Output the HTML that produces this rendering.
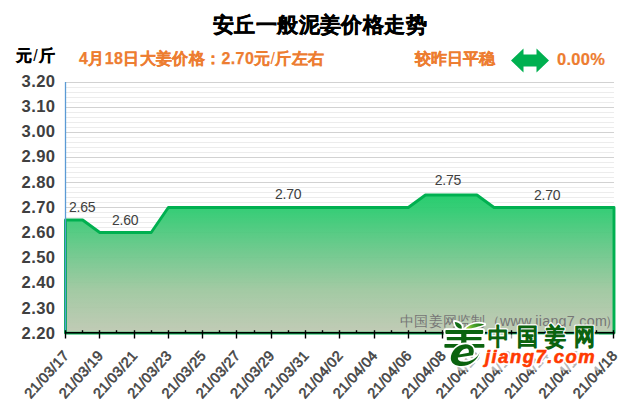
<!DOCTYPE html>
<html><head><meta charset="utf-8">
<style>
html,body{margin:0;padding:0;background:#fff;}
body{width:640px;height:410px;overflow:hidden;position:relative;font-family:"Liberation Sans",sans-serif;}
svg{position:absolute;left:0;top:0;}
.yl{font-family:"Liberation Sans",sans-serif;font-weight:bold;font-size:16.6px;letter-spacing:0.35px;fill:#404040;}
.xl{font-family:"Liberation Sans",sans-serif;font-size:14.3px;letter-spacing:0.3px;fill:#454545;stroke:#454545;stroke-width:0.6px;}
.dl{font-family:"Liberation Sans",sans-serif;font-size:14px;letter-spacing:-0.2px;fill:#404040;}
.wm{font-family:"Liberation Sans",sans-serif;font-size:14.3px;letter-spacing:0.28px;fill:#767676;}
.lg1{font-family:"Liberation Sans",sans-serif;font-size:24px;fill:#0b630f;stroke:#0b630f;stroke-width:1.5px;stroke-linejoin:round;}
.lg2{font-family:"Liberation Sans",sans-serif;font-size:18.4px;letter-spacing:1.5px;font-weight:bold;font-style:italic;fill:#ff3a00;stroke:#ff3a00;stroke-width:0.6px;stroke-linejoin:round;}
.halo{fill:#fff;stroke:#fff;stroke-width:4px;}
.t{position:absolute;white-space:nowrap;font-weight:bold;line-height:1;}
</style></head><body>
<svg width="640" height="410" viewBox="0 0 640 410">
<defs>
<linearGradient id="g" gradientUnits="userSpaceOnUse" x1="0" y1="194" x2="0" y2="333">
<stop offset="0" stop-color="#1fcc69"/>
<stop offset="0.115" stop-color="#30cb72"/>
<stop offset="0.403" stop-color="#6ac88a"/>
<stop offset="0.69" stop-color="#9fc8a0"/>
<stop offset="1" stop-color="#bfc9b3"/>
</linearGradient>
<linearGradient id="lf" gradientUnits="userSpaceOnUse" x1="466" y1="328" x2="484" y2="323">
<stop offset="0" stop-color="#b9d63a"/>
<stop offset="0.4" stop-color="#4fa72e"/>
<stop offset="1" stop-color="#0b6812"/>
</linearGradient>
</defs>
<line x1="65" y1="82.5" x2="614" y2="82.5" stroke="#d2d2d2" stroke-width="1"/>
<line x1="65" y1="87.5" x2="614" y2="87.5" stroke="#ececec" stroke-width="1"/>
<line x1="65" y1="92.5" x2="614" y2="92.5" stroke="#ececec" stroke-width="1"/>
<line x1="65" y1="97.5" x2="614" y2="97.5" stroke="#ececec" stroke-width="1"/>
<line x1="65" y1="102.5" x2="614" y2="102.5" stroke="#ececec" stroke-width="1"/>
<line x1="65" y1="107.5" x2="614" y2="107.5" stroke="#d2d2d2" stroke-width="1"/>
<line x1="65" y1="112.5" x2="614" y2="112.5" stroke="#ececec" stroke-width="1"/>
<line x1="65" y1="117.5" x2="614" y2="117.5" stroke="#ececec" stroke-width="1"/>
<line x1="65" y1="122.5" x2="614" y2="122.5" stroke="#ececec" stroke-width="1"/>
<line x1="65" y1="127.5" x2="614" y2="127.5" stroke="#ececec" stroke-width="1"/>
<line x1="65" y1="132.5" x2="614" y2="132.5" stroke="#d2d2d2" stroke-width="1"/>
<line x1="65" y1="137.5" x2="614" y2="137.5" stroke="#ececec" stroke-width="1"/>
<line x1="65" y1="142.5" x2="614" y2="142.5" stroke="#ececec" stroke-width="1"/>
<line x1="65" y1="147.5" x2="614" y2="147.5" stroke="#ececec" stroke-width="1"/>
<line x1="65" y1="152.5" x2="614" y2="152.5" stroke="#ececec" stroke-width="1"/>
<line x1="65" y1="157.5" x2="614" y2="157.5" stroke="#d2d2d2" stroke-width="1"/>
<line x1="65" y1="162.5" x2="614" y2="162.5" stroke="#ececec" stroke-width="1"/>
<line x1="65" y1="167.5" x2="614" y2="167.5" stroke="#ececec" stroke-width="1"/>
<line x1="65" y1="172.5" x2="614" y2="172.5" stroke="#ececec" stroke-width="1"/>
<line x1="65" y1="177.5" x2="614" y2="177.5" stroke="#ececec" stroke-width="1"/>
<line x1="65" y1="182.5" x2="614" y2="182.5" stroke="#d2d2d2" stroke-width="1"/>
<line x1="65" y1="187.5" x2="614" y2="187.5" stroke="#ececec" stroke-width="1"/>
<line x1="65" y1="192.5" x2="614" y2="192.5" stroke="#ececec" stroke-width="1"/>
<line x1="65" y1="197.5" x2="614" y2="197.5" stroke="#ececec" stroke-width="1"/>
<line x1="65" y1="202.5" x2="614" y2="202.5" stroke="#ececec" stroke-width="1"/>
<line x1="65" y1="207.5" x2="614" y2="207.5" stroke="#d2d2d2" stroke-width="1"/>
<line x1="65" y1="212.5" x2="614" y2="212.5" stroke="#ececec" stroke-width="1"/>
<line x1="65" y1="217.5" x2="614" y2="217.5" stroke="#ececec" stroke-width="1"/>
<line x1="65" y1="222.5" x2="614" y2="222.5" stroke="#ececec" stroke-width="1"/>
<line x1="65" y1="227.5" x2="614" y2="227.5" stroke="#ececec" stroke-width="1"/>
<line x1="65" y1="232.5" x2="614" y2="232.5" stroke="#d2d2d2" stroke-width="1"/>
<line x1="65" y1="237.5" x2="614" y2="237.5" stroke="#ececec" stroke-width="1"/>
<line x1="65" y1="242.5" x2="614" y2="242.5" stroke="#ececec" stroke-width="1"/>
<line x1="65" y1="247.5" x2="614" y2="247.5" stroke="#ececec" stroke-width="1"/>
<line x1="65" y1="252.5" x2="614" y2="252.5" stroke="#ececec" stroke-width="1"/>
<line x1="65" y1="257.5" x2="614" y2="257.5" stroke="#d2d2d2" stroke-width="1"/>
<line x1="65" y1="262.5" x2="614" y2="262.5" stroke="#ececec" stroke-width="1"/>
<line x1="65" y1="267.5" x2="614" y2="267.5" stroke="#ececec" stroke-width="1"/>
<line x1="65" y1="272.5" x2="614" y2="272.5" stroke="#ececec" stroke-width="1"/>
<line x1="65" y1="277.5" x2="614" y2="277.5" stroke="#ececec" stroke-width="1"/>
<line x1="65" y1="282.5" x2="614" y2="282.5" stroke="#d2d2d2" stroke-width="1"/>
<line x1="65" y1="287.5" x2="614" y2="287.5" stroke="#ececec" stroke-width="1"/>
<line x1="65" y1="292.5" x2="614" y2="292.5" stroke="#ececec" stroke-width="1"/>
<line x1="65" y1="297.5" x2="614" y2="297.5" stroke="#ececec" stroke-width="1"/>
<line x1="65" y1="302.5" x2="614" y2="302.5" stroke="#ececec" stroke-width="1"/>
<line x1="65" y1="307.5" x2="614" y2="307.5" stroke="#d2d2d2" stroke-width="1"/>
<line x1="65" y1="312.5" x2="614" y2="312.5" stroke="#ececec" stroke-width="1"/>
<line x1="65" y1="317.5" x2="614" y2="317.5" stroke="#ececec" stroke-width="1"/>
<line x1="65" y1="322.5" x2="614" y2="322.5" stroke="#ececec" stroke-width="1"/>
<line x1="65" y1="327.5" x2="614" y2="327.5" stroke="#ececec" stroke-width="1"/>
<line x1="65" y1="332.5" x2="614" y2="332.5" stroke="#d2d2d2" stroke-width="1"/>
<polygon points="65.5,333.1 65.50,220.00 82.64,220.00 99.78,232.50 116.92,232.50 134.06,232.50 151.20,232.50 168.34,207.50 185.48,207.50 202.62,207.50 219.77,207.50 236.91,207.50 254.05,207.50 271.19,207.50 288.33,207.50 305.47,207.50 322.61,207.50 339.75,207.50 356.89,207.50 374.03,207.50 391.17,207.50 408.31,207.50 425.45,195.00 442.59,195.00 459.73,195.00 476.88,195.00 494.02,207.50 511.16,207.50 528.30,207.50 545.44,207.50 562.58,207.50 579.72,207.50 596.86,207.50 614.00,207.50 614.0,333.1" fill="url(#g)" fill-opacity="0.96"/>
<polygon points="65.5,333.1 65.50,220.00 82.64,220.00 99.78,232.50 116.92,232.50 134.06,232.50 151.20,232.50 168.34,207.50 185.48,207.50 202.62,207.50 219.77,207.50 236.91,207.50 254.05,207.50 271.19,207.50 288.33,207.50 305.47,207.50 322.61,207.50 339.75,207.50 356.89,207.50 374.03,207.50 391.17,207.50 408.31,207.50 425.45,195.00 442.59,195.00 459.73,195.00 476.88,195.00 494.02,207.50 511.16,207.50 528.30,207.50 545.44,207.50 562.58,207.50 579.72,207.50 596.86,207.50 614.00,207.50 614.0,333.1" fill="none" stroke="#00b050" stroke-width="2.9" stroke-linejoin="round"/>
<line x1="65.5" y1="82" x2="65.5" y2="331" stroke="#5b9bd5" stroke-width="1.3"/>
<line x1="65" y1="332.8" x2="614.5" y2="332.8" stroke="#000" stroke-width="1.5"/>
<line x1="65.5" y1="330.2" x2="65.5" y2="338.5" stroke="#000" stroke-width="1.4"/>
<line x1="82.5" y1="330.2" x2="82.5" y2="333" stroke="#000" stroke-width="1.4"/>
<line x1="99.5" y1="330.2" x2="99.5" y2="338.5" stroke="#000" stroke-width="1.4"/>
<line x1="116.5" y1="330.2" x2="116.5" y2="333" stroke="#000" stroke-width="1.4"/>
<line x1="134.5" y1="330.2" x2="134.5" y2="338.5" stroke="#000" stroke-width="1.4"/>
<line x1="151.5" y1="330.2" x2="151.5" y2="333" stroke="#000" stroke-width="1.4"/>
<line x1="168.5" y1="330.2" x2="168.5" y2="338.5" stroke="#000" stroke-width="1.4"/>
<line x1="185.5" y1="330.2" x2="185.5" y2="333" stroke="#000" stroke-width="1.4"/>
<line x1="202.5" y1="330.2" x2="202.5" y2="338.5" stroke="#000" stroke-width="1.4"/>
<line x1="219.5" y1="330.2" x2="219.5" y2="333" stroke="#000" stroke-width="1.4"/>
<line x1="236.5" y1="330.2" x2="236.5" y2="338.5" stroke="#000" stroke-width="1.4"/>
<line x1="254.5" y1="330.2" x2="254.5" y2="333" stroke="#000" stroke-width="1.4"/>
<line x1="271.5" y1="330.2" x2="271.5" y2="338.5" stroke="#000" stroke-width="1.4"/>
<line x1="288.5" y1="330.2" x2="288.5" y2="333" stroke="#000" stroke-width="1.4"/>
<line x1="305.5" y1="330.2" x2="305.5" y2="338.5" stroke="#000" stroke-width="1.4"/>
<line x1="322.5" y1="330.2" x2="322.5" y2="333" stroke="#000" stroke-width="1.4"/>
<line x1="339.5" y1="330.2" x2="339.5" y2="338.5" stroke="#000" stroke-width="1.4"/>
<line x1="356.5" y1="330.2" x2="356.5" y2="333" stroke="#000" stroke-width="1.4"/>
<line x1="374.5" y1="330.2" x2="374.5" y2="338.5" stroke="#000" stroke-width="1.4"/>
<line x1="391.5" y1="330.2" x2="391.5" y2="333" stroke="#000" stroke-width="1.4"/>
<line x1="408.5" y1="330.2" x2="408.5" y2="338.5" stroke="#000" stroke-width="1.4"/>
<line x1="425.5" y1="330.2" x2="425.5" y2="333" stroke="#000" stroke-width="1.4"/>
<line x1="442.5" y1="330.2" x2="442.5" y2="338.5" stroke="#000" stroke-width="1.4"/>
<line x1="459.5" y1="330.2" x2="459.5" y2="333" stroke="#000" stroke-width="1.4"/>
<line x1="476.5" y1="330.2" x2="476.5" y2="338.5" stroke="#000" stroke-width="1.4"/>
<line x1="494.5" y1="330.2" x2="494.5" y2="333" stroke="#000" stroke-width="1.4"/>
<line x1="511.5" y1="330.2" x2="511.5" y2="338.5" stroke="#000" stroke-width="1.4"/>
<line x1="528.5" y1="330.2" x2="528.5" y2="333" stroke="#000" stroke-width="1.4"/>
<line x1="545.5" y1="330.2" x2="545.5" y2="338.5" stroke="#000" stroke-width="1.4"/>
<line x1="562.5" y1="330.2" x2="562.5" y2="333" stroke="#000" stroke-width="1.4"/>
<line x1="579.5" y1="330.2" x2="579.5" y2="338.5" stroke="#000" stroke-width="1.4"/>
<line x1="596.5" y1="330.2" x2="596.5" y2="333" stroke="#000" stroke-width="1.4"/>
<line x1="613.5" y1="330.2" x2="613.5" y2="338.5" stroke="#000" stroke-width="1.4"/>
<text x="55.3" y="86.90" text-anchor="end" class="yl">3.20</text>
<text x="55.3" y="112.08" text-anchor="end" class="yl">3.10</text>
<text x="55.3" y="137.26" text-anchor="end" class="yl">3.00</text>
<text x="55.3" y="162.44" text-anchor="end" class="yl">2.90</text>
<text x="55.3" y="187.62" text-anchor="end" class="yl">2.80</text>
<text x="55.3" y="212.80" text-anchor="end" class="yl">2.70</text>
<text x="55.3" y="237.98" text-anchor="end" class="yl">2.60</text>
<text x="55.3" y="263.16" text-anchor="end" class="yl">2.50</text>
<text x="55.3" y="288.34" text-anchor="end" class="yl">2.40</text>
<text x="55.3" y="313.52" text-anchor="end" class="yl">2.30</text>
<text x="55.3" y="338.70" text-anchor="end" class="yl">2.20</text>
<text transform="translate(69.7,356.2) rotate(-48)" text-anchor="end" class="xl">21/03/17</text>
<text transform="translate(104.0,356.2) rotate(-48)" text-anchor="end" class="xl">21/03/19</text>
<text transform="translate(138.3,356.2) rotate(-48)" text-anchor="end" class="xl">21/03/21</text>
<text transform="translate(172.5,356.2) rotate(-48)" text-anchor="end" class="xl">21/03/23</text>
<text transform="translate(206.8,356.2) rotate(-48)" text-anchor="end" class="xl">21/03/25</text>
<text transform="translate(241.1,356.2) rotate(-48)" text-anchor="end" class="xl">21/03/27</text>
<text transform="translate(275.4,356.2) rotate(-48)" text-anchor="end" class="xl">21/03/29</text>
<text transform="translate(309.7,356.2) rotate(-48)" text-anchor="end" class="xl">21/03/31</text>
<text transform="translate(343.9,356.2) rotate(-48)" text-anchor="end" class="xl">21/04/02</text>
<text transform="translate(378.2,356.2) rotate(-48)" text-anchor="end" class="xl">21/04/04</text>
<text transform="translate(412.5,356.2) rotate(-48)" text-anchor="end" class="xl">21/04/06</text>
<text transform="translate(446.8,356.2) rotate(-48)" text-anchor="end" class="xl">21/04/08</text>
<text transform="translate(481.1,356.2) rotate(-48)" text-anchor="end" class="xl">21/04/10</text>
<text transform="translate(515.4,356.2) rotate(-48)" text-anchor="end" class="xl">21/04/12</text>
<text transform="translate(549.6,356.2) rotate(-48)" text-anchor="end" class="xl">21/04/14</text>
<text transform="translate(583.9,356.2) rotate(-48)" text-anchor="end" class="xl">21/04/16</text>
<text transform="translate(618.2,356.2) rotate(-48)" text-anchor="end" class="xl">21/04/18</text>
<text x="69.0" y="212" class="dl">2.65</text>
<text x="112.0" y="225" class="dl">2.60</text>
<text x="275.0" y="198.7" class="dl">2.70</text>
<text x="434.7" y="185" class="dl">2.75</text>
<text x="534.0" y="199.5" class="dl">2.70</text>
<text x="400" y="325.5" class="wm">中国姜网监制（www.jiang7.com<tspan dx="-2.5">）</tspan></text>

<g id="logo">
 <rect x="449" y="334.5" width="150" height="36" fill="#fff" fill-opacity="0.6"/>
 <g fill="#fff" stroke="#fff" stroke-width="3.6" stroke-linejoin="round">
  <path d="M454.8,321.9 C459.2,322.4 462.8,325.2 461.5,328.7 C457.5,328.4 455.1,325.6 454.8,321.9 Z"/><path d="M465.9,328.5 C469.5,324.6 477,322.3 484.3,324.4 C479.2,326.3 472,328.8 465.9,328.5 Z"/>
  <rect x="445.4" y="330" width="37.8" height="3.9" rx="0.8"/>
  <rect x="446.8" y="337" width="34.7" height="3.2" rx="0.6"/>
  <rect x="444.4" y="344" width="40" height="3.8" rx="0.8"/>
  <rect x="461.2" y="330.4" width="5.2" height="14"/>
 </g>
 <text transform="translate(488.20,345) scale(0.88,1)" class="lg1 halo">中</text><text transform="translate(516.75,345) scale(0.88,1)" class="lg1 halo">国</text><text transform="translate(545.30,345) scale(0.88,1)" class="lg1 halo">姜</text><text transform="translate(573.85,345) scale(0.88,1)" class="lg1 halo">网</text>
 <text x="485" y="362.6" class="lg2 halo">jiang7.com</text>
 <g fill="#0b630f">
  <rect x="445.4" y="330" width="37.8" height="3.9" rx="0.8"/>
  <rect x="446.8" y="337" width="34.7" height="3.2" rx="0.6"/>
  <rect x="444.4" y="344" width="40" height="3.8" rx="0.8"/>
  <rect x="461.2" y="330.4" width="5.2" height="14"/>
 </g>
 <path fill-rule="evenodd" d="M472.8,355.2 C475.6,349.5 472.5,344.2 465.5,344.2 C457,344.4 450.8,351.5 450.8,358.2 C450.8,363.2 455.3,366 461.5,366 C470.2,366 477.5,360.3 479.8,352 C477.6,358.2 471,361.8 463.5,361.8 C459.5,361.8 457.6,360 457.9,357.6 Z M459.3,354.6 C460.2,351.2 463.6,348.4 466.6,348.4 C468.5,348.4 469.2,350.2 468.8,352.7 Z" fill="#fff" stroke="#fff" stroke-width="3.2" stroke-linejoin="round"/>
 <path fill-rule="evenodd" d="M472.8,355.2 C475.6,349.5 472.5,344.2 465.5,344.2 C457,344.4 450.8,351.5 450.8,358.2 C450.8,363.2 455.3,366 461.5,366 C470.2,366 477.5,360.3 479.8,352 C477.6,358.2 471,361.8 463.5,361.8 C459.5,361.8 457.6,360 457.9,357.6 Z M459.3,354.6 C460.2,351.2 463.6,348.4 466.6,348.4 C468.5,348.4 469.2,350.2 468.8,352.7 Z" fill="#0b630f"/>
 <path d="M454.8,321.9 C459.2,322.4 462.8,325.2 461.5,328.7 C457.5,328.4 455.1,325.6 454.8,321.9 Z" fill="#126f17"/>
 <path d="M465.9,328.5 C469.5,324.6 477,322.3 484.3,324.4 C479.2,326.3 472,328.8 465.9,328.5 Z" fill="url(#lf)"/>
 <text transform="translate(488.20,345) scale(0.88,1)" class="lg1">中</text><text transform="translate(516.75,345) scale(0.88,1)" class="lg1">国</text><text transform="translate(545.30,345) scale(0.88,1)" class="lg1">姜</text><text transform="translate(573.85,345) scale(0.88,1)" class="lg1">网</text>
 <text x="485" y="362.6" class="lg2">jiang7.com</text>
</g>

</svg>
<div class="t" style="left:213px;top:14.5px;font-size:21.3px;letter-spacing:0.4px;color:#000;-webkit-text-stroke:0.45px #000;">安丘一般泥姜价格走势</div>
<div class="t" style="left:16px;top:48px;font-size:16px;color:#000;letter-spacing:1.2px;-webkit-text-stroke:0.3px #000;">元<span style="font-weight:normal;-webkit-text-stroke:0;">/</span>斤</div>
<div class="t" style="left:79px;top:51px;font-size:16px;color:#ed7d31;letter-spacing:0.38px;-webkit-text-stroke:0.25px #ed7d31;">4月18日大姜价格：2.70元<span style="font-weight:normal;-webkit-text-stroke:0;">/</span>斤左右</div>
<div class="t" style="left:415px;top:51px;font-size:16px;color:#ed7d31;-webkit-text-stroke:0.25px #ed7d31;">较昨日平稳</div>
<svg width="40" height="26" style="left:510px;top:48px;" viewBox="0 0 40 26"><polygon points="1,12.5 13.5,0.5 13.5,6.5 26.5,6.5 26.5,0.5 39,12.5 26.5,24.5 26.5,18.5 13.5,18.5 13.5,24.5" fill="#00b050"/></svg>
<div class="t" style="left:557px;top:50.7px;font-size:16.5px;letter-spacing:0.3px;color:#ed7d31;-webkit-text-stroke:0.2px #ed7d31;">0.00%</div>
</body></html>
